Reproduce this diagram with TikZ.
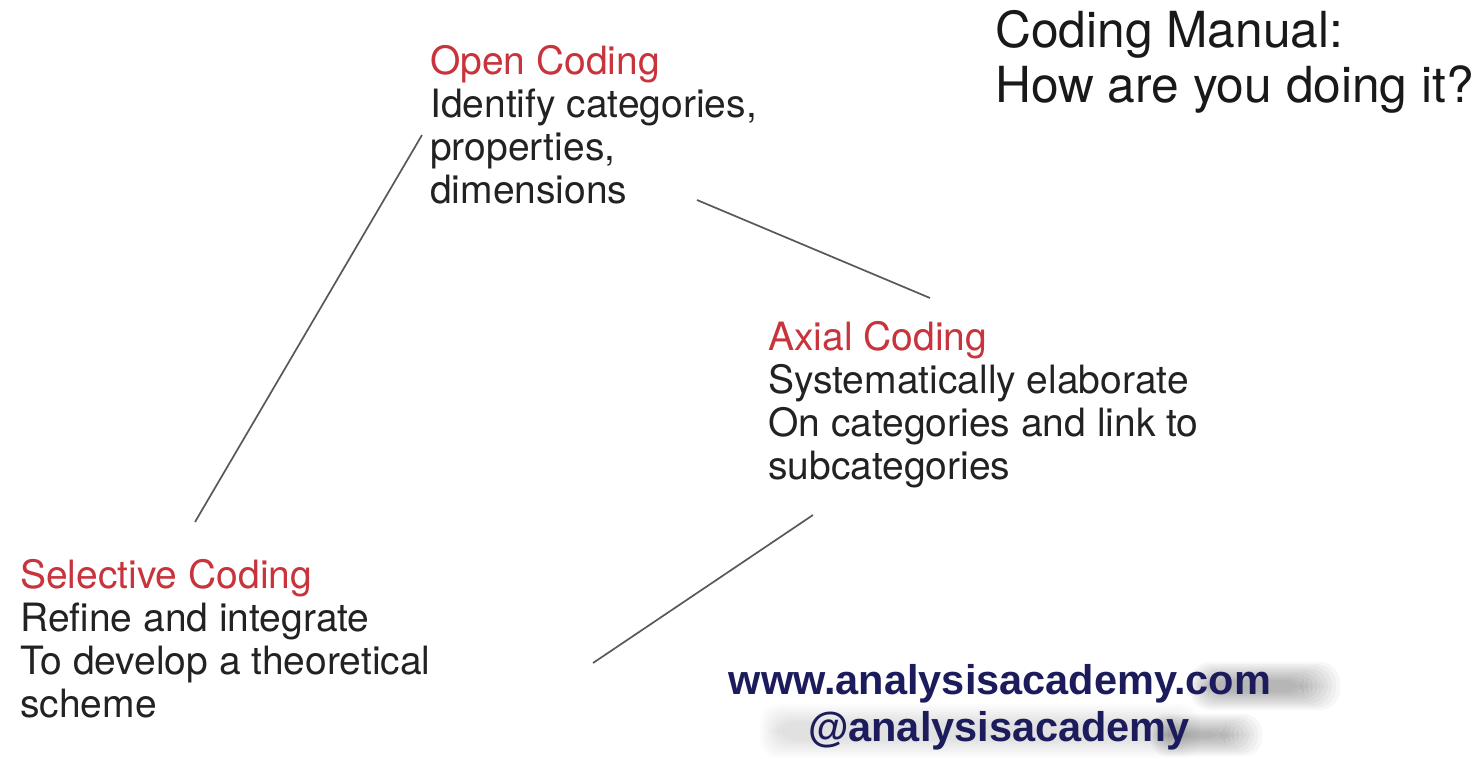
\documentclass[tikz,border=0pt]{standalone}
\usepackage{fontspec}
\setmainfont{TeX Gyre Heros}
\newfontfamily\urlfont{Liberation Sans}
\definecolor{headred}{HTML}{C8333C}
\definecolor{bodygray}{HTML}{222222}
\definecolor{navy}{HTML}{1C1B5C}
\begin{document}
\begin{tikzpicture}[x=1pt,y=-1pt,
  body/.style={anchor=base west,inner sep=0pt,text=bodygray,font=\fontsize{39}{43}\selectfont},
  head/.style={body,text=headred},
  title/.style={anchor=base west,inner sep=0pt,text=black!90,font=\fontsize{49.7}{55}\selectfont},
  web/.style={anchor=base,inner sep=0pt,text=navy,font=\urlfont\bfseries\fontsize{41.5}{47}\selectfont},
  link/.style={draw=black!65,line width=1.7pt}]
\useasboundingbox (0,0) rectangle (1473,758);
\fill[white] (0,0) rectangle (1473,758);

% title
\node[title] (t1) at (995,47) {Coding Manual:};
\node[title] (t2) at (995,102) {How are you doing it?};

% open coding
\node[head] (o0) at (430,74) {Open Coding};
\node[body] (o1) at (430,117) {Identify categories,};
\node[body] (o2) at (430,160) {properties,};
\node[body] (o3) at (430,203) {dimensions};

% axial coding
\node[head] (a0) at (768,350) {Axial Coding};
\node[body] (a1) at (768,393) {Systematically elaborate};
\node[body] (a2) at (768,436) {On categories and link to};
\node[body] (a3) at (768,479) {subcategories};

% selective coding
\node[head] (s0) at (20,588) {Selective Coding};
\node[body] (s1) at (20,631) {Refine and integrate};
\node[body] (s2) at (20,674) {To develop a theoretical};
\node[body] (s3) at (20,717) {scheme};

% connector ends
\coordinate (oa) at (697,200);
\coordinate (ao) at (930,298);
\coordinate (as) at (813,515);
\coordinate (sa) at (593,663);
\coordinate (so) at (195,522);
\coordinate (os) at (422,135);
\draw[link] (oa) -- (ao);
\draw[link] (as) -- (sa);
\draw[link] (so) -- (os);

% soft grey smudge behind the web address
\foreach \k in {0,...,9}{
  \fill[black,opacity=0.03,rounded corners=20pt]
    (1190+2*\k,662+2*\k) rectangle (1340-4*\k,710-2*\k);
  \fill[black,opacity=0.03,rounded corners=18pt]
    (1150+2*\k,714+2*\k) rectangle (1262-4*\k,756-2*\k);
  \fill[black,opacity=0.012,rounded corners=18pt]
    (760+2*\k,704+2*\k) rectangle (1200-3*\k,758-2*\k);
}
\node[web] (w1) at (1000,694) {www.analysisacademy.com};
\node[web] (w2) at (999,741) {@analysisacademy};
\end{tikzpicture}
\end{document}
